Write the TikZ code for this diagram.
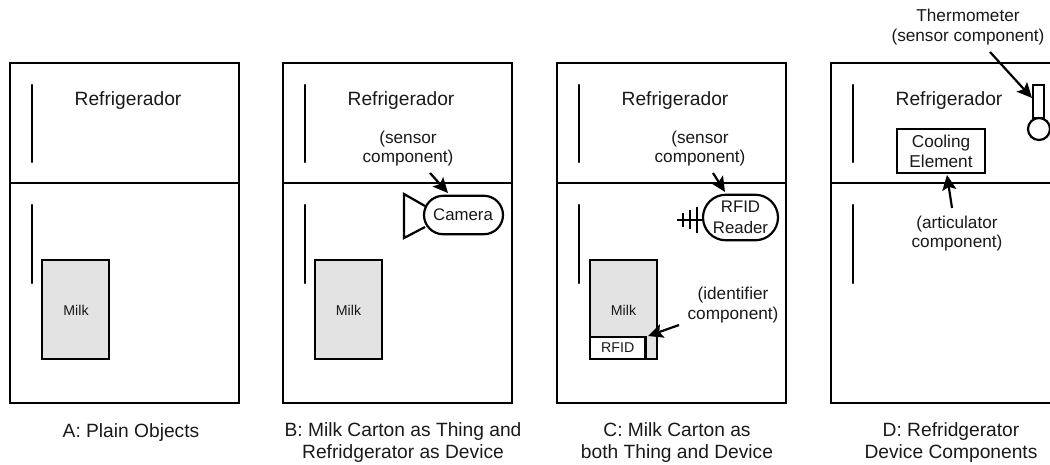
\documentclass[tikz,border=0pt]{standalone}
\usepackage{fontspec}
\setmainfont{Liberation Sans}
\usetikzlibrary{arrows.meta,shapes.misc}
\tikzset{
  x=1pt,y=-1pt,
  ink/.style={line width=2.2pt,black},
  frame/.style={ink,draw,rectangle,inner sep=0,outer sep=0,minimum width=229pt,minimum height=#1},
  handle/.style={ink,line cap=round},
  big/.style={font=\fontsize{19.2}{21}\selectfont,inner sep=0,align=center,text=black!90},
  mid/.style={font=\fontsize{17.2}{19.5}\selectfont,inner sep=0,align=center,text=black!90},
  small/.style={font=\fontsize{14.2}{16}\selectfont,inner sep=0,align=center,text=black!90},
  captiontext/.style={font=\fontsize{19.2}{22}\selectfont,inner sep=0,align=center,text=black!90},
  carton/.style={ink,draw,fill=black!11,inner sep=0,outer sep=0,minimum width=66.7pt,minimum height=98.7pt},
  pill/.style={ink,draw,fill=white,rounded rectangle,inner sep=0,outer sep=0},
  callout/.style={ink,-{Stealth[length=15pt,width=14pt,inset=3pt]}},
}
\begin{document}
\begin{tikzpicture}
\useasboundingbox (0,0) rectangle (1050,464);
\foreach \n/\x in {A/10,B/283,C/557,D/831}{
  \node[frame=120pt,anchor=north west] (top\n) at (\x,63.3) {};
  \node[frame=219.4pt,anchor=north west] (low\n) at (\x,183.3) {};
  \draw[handle] (\x+22,85) -- (\x+22,162);
  \draw[handle] (\x+22,205) -- (\x+22,283);
  \node[big] (ref\n) at (\x+118,101) {Refrigerador};
}
% A
\node[carton,anchor=north west] (milkA) at (42.3,260.3) {};
\node[small] (mlabA) at (76,310) {Milk};
\node[captiontext] (capA) at (131,433) {A: Plain Objects};
% B
\node[carton,anchor=north west] (milkB) at (315,260.3) {};
\node[small] (mlabB) at (348.5,310) {Milk};
\coordinate (camT) at (404,194);
\coordinate (camB) at (404,238);
\draw[ink,line join=miter] (425,206) -- (camT) -- (camB) -- (425,227);
\node[pill,minimum width=79pt,minimum height=38.5pt] (cam) at (463.5,215) {};
\node[mid,font=\fontsize{16.8}{19}\selectfont] (camlab) at (463,215) {Camera};
\node[mid] (sensB) at (408,148.5) {(sensor\\component)};
\coordinate (sB) at (430,173);
\draw[callout] (sB) -- (448,193);
\node[captiontext] (capB) at (403,443) {B: Milk Carton as Thing and\\Refridgerator as Device};
% C
\node[carton,anchor=north west] (milkC) at (590,260.3) {};
\node[small] (mlabC) at (623.5,310) {Milk};
\node[ink,draw,fill=white,inner sep=0,outer sep=0,minimum width=55.5pt,minimum height=22pt,anchor=south west,font=\fontsize{14.2}{16}\selectfont,text=black!90] (rfid) at (590,359) {RFID};
\node[pill,minimum width=75pt,minimum height=45.5pt] (reader) at (740.5,217.5) {};
\node[mid,font=\fontsize{16.8}{21}\selectfont] (readerlab) at (740.5,217.5) {RFID\\Reader};
\coordinate (ant) at (677,220);
\draw[ink] (ant) -- (reader.west |- ant);
\draw[ink] (683,213) -- (683,227) (690,210) -- (690,229) (697,207) -- (697,233);
\node[mid] (sensC) at (700,148.5) {(sensor\\component)};
\coordinate (sC) at (713,173);
\draw[callout] (sC) -- (725,192);
\node[mid] (ident) at (733,305) {(identifier\\component)};
\coordinate (sI) at (679,325);
\draw[callout] (sI) -- (648,336);
\node[captiontext] (capC) at (677,443) {C: Milk Carton as\\both Thing and Device};
% D
\node[ink,draw,inner sep=0,outer sep=0,minimum width=88pt,minimum height=44pt,anchor=north west,font=\fontsize{17.2}{20}\selectfont,align=center,text=black!90] (cool) at (897,129) {Cooling\\Element};
\node[mid] (art) at (957,233.5) {(articulator\\component)};
\coordinate (sA) at (952,208);
\draw[callout] (sA) -- (947,175);
\node[ink,draw,inner sep=0,outer sep=0,minimum width=11pt,minimum height=33pt,anchor=north west] (tube) at (1033,85) {};
\node[ink,draw,fill=white,circle,inner sep=0,outer sep=0,minimum size=22pt] (bulb) at (1039,129) {};
\node[mid] (therm) at (968,27) {Thermometer\\(sensor component)};
\coordinate (sT) at (990,52);
\draw[callout] (sT) -- (1032,98);
\node[captiontext] (capD) at (951,443) {D: Refridgerator\\Device Components};
\end{tikzpicture}
\end{document}
